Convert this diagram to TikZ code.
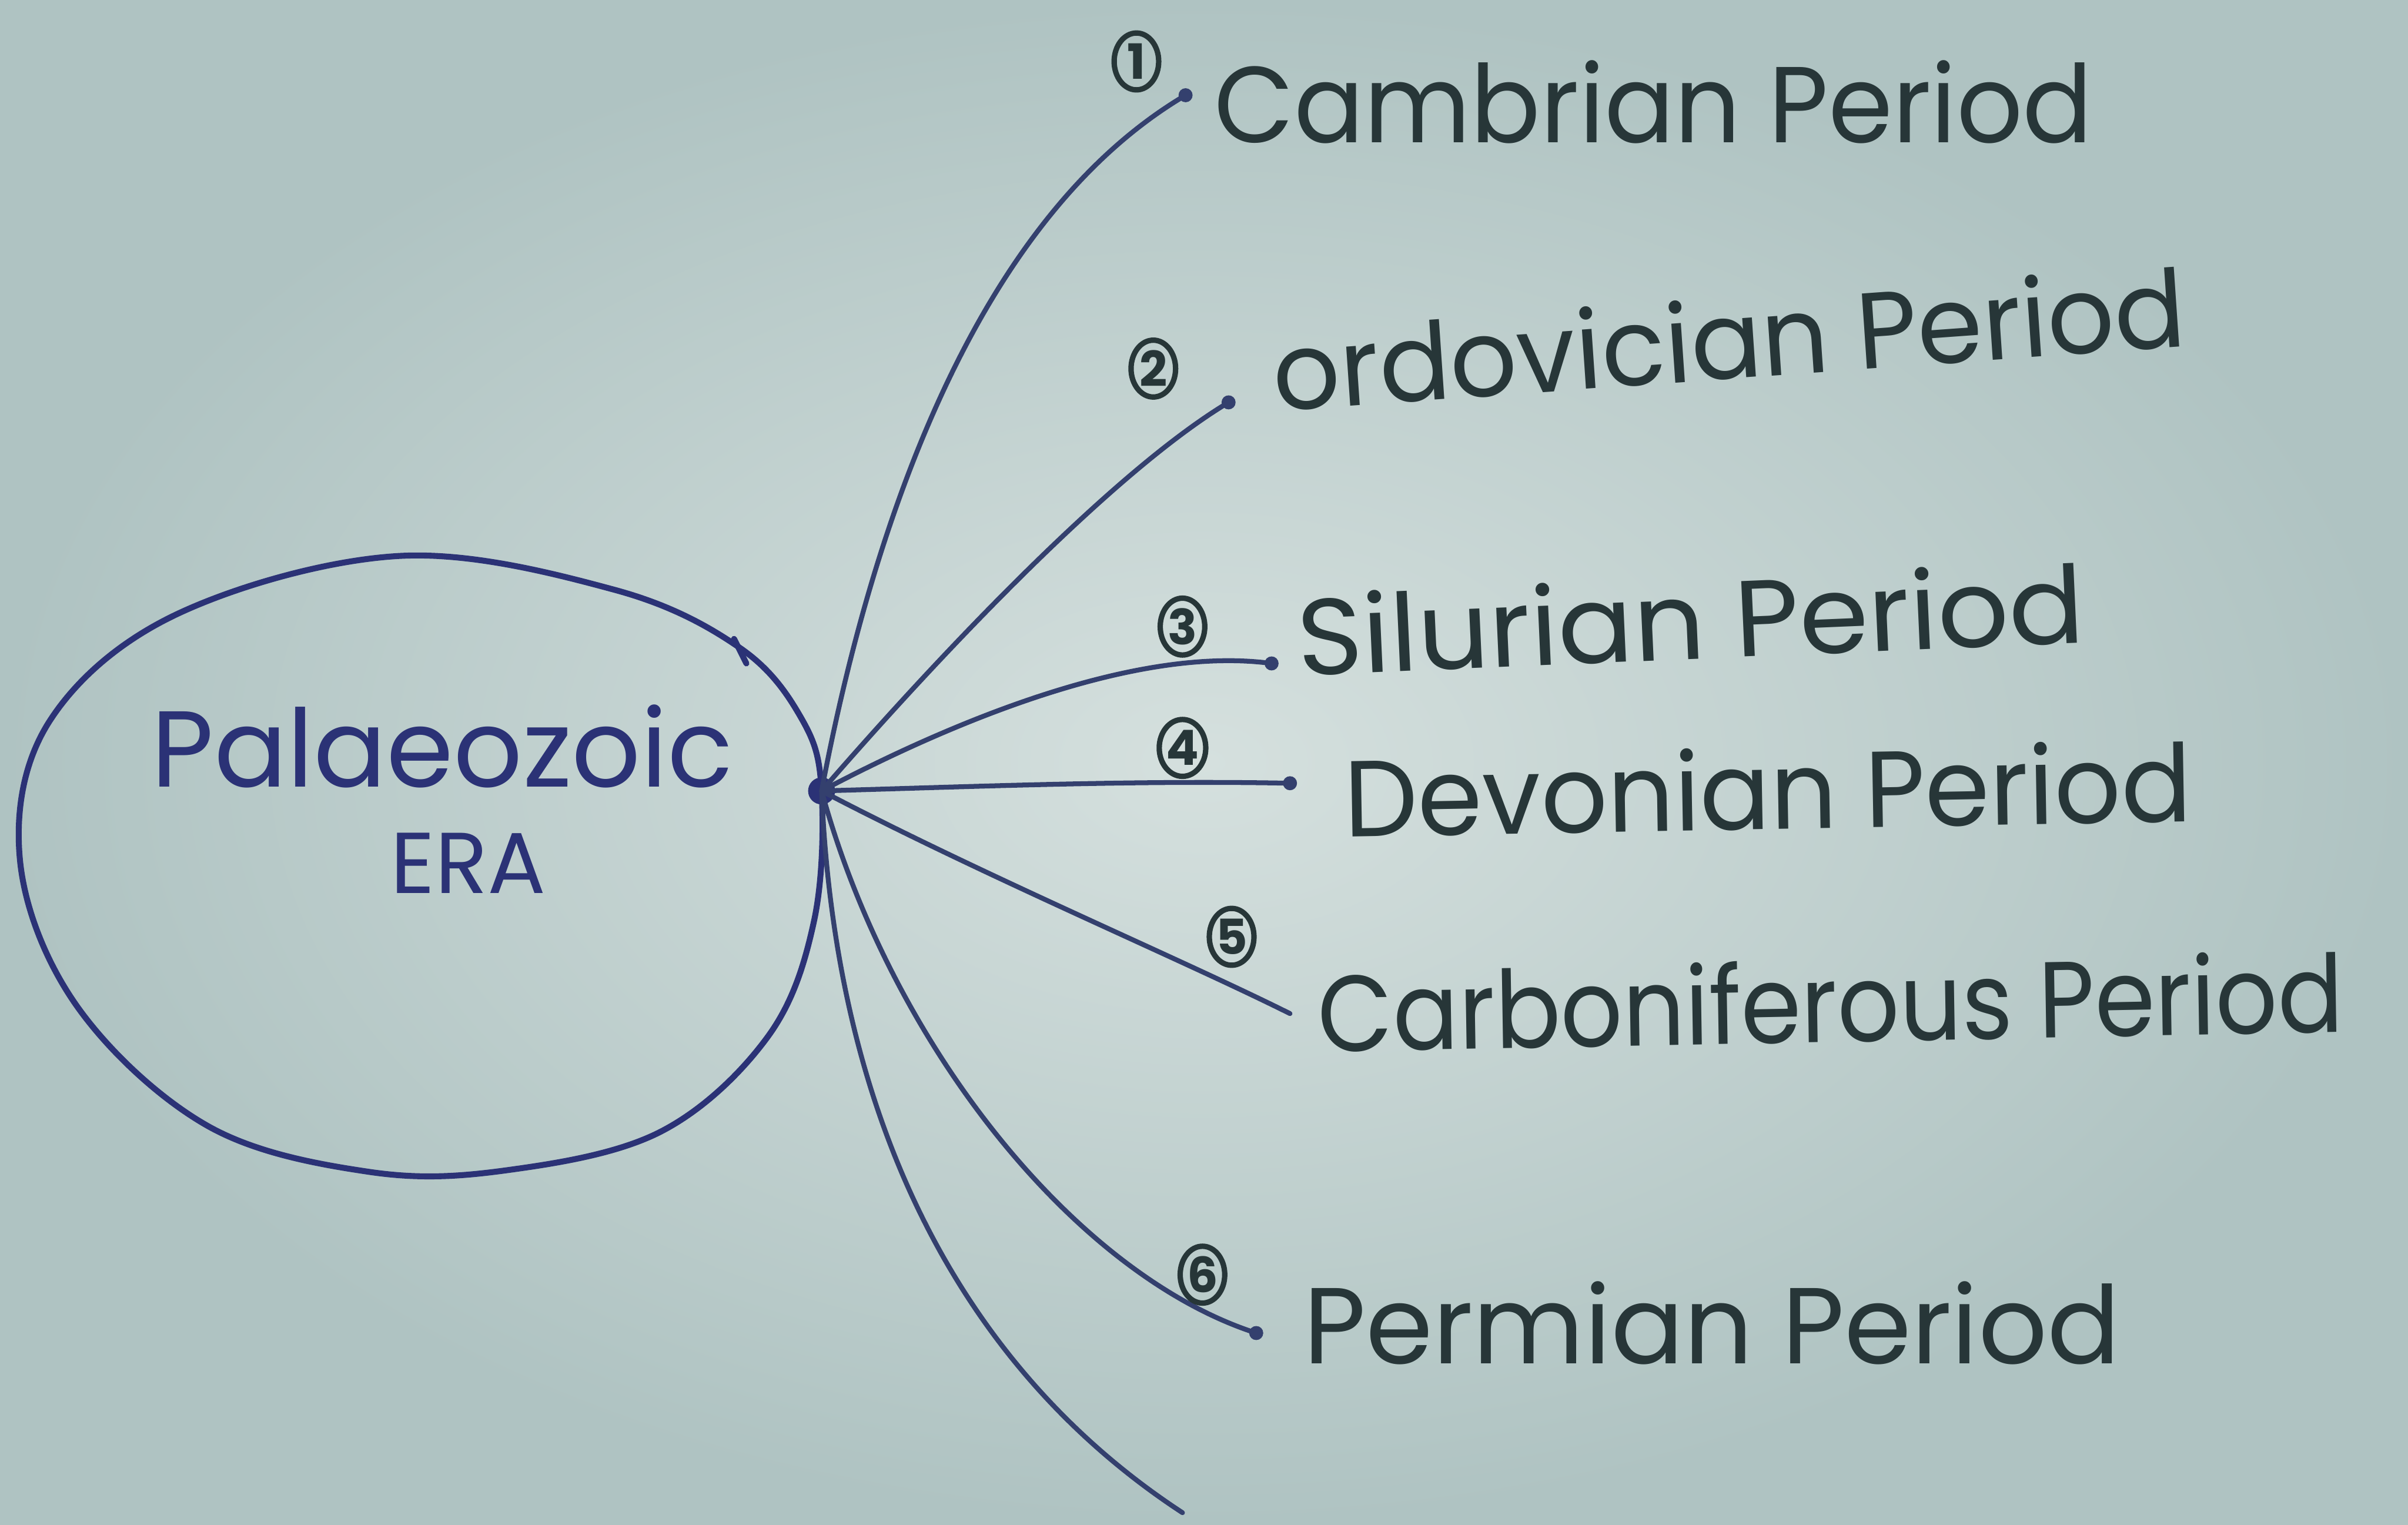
\documentclass[tikz,border=0pt]{standalone}
\usepackage{fontspec}
\setmainfont{Poppins}
\usetikzlibrary{shapes.geometric}
\definecolor{paper}{HTML}{D5E0DE}
\definecolor{paperedge}{HTML}{AFC3C2}
\definecolor{ink}{HTML}{2B3276}
\definecolor{lineink}{HTML}{34406E}
\definecolor{textink}{HTML}{273638}
\begin{document}
\begin{tikzpicture}[x=0.01cm,y=-0.01cm,
  conn/.style={draw=lineink, line width=0.9pt, line cap=round},
  lbl/.style={text=textink, font=\fontsize{20}{24}\selectfont, anchor=base west, inner sep=0pt},
  num/.style={draw=textink, line width=1pt, ellipse, minimum width=0.29cm, minimum height=0.37cm, inner sep=0pt, font=\fontsize{9}{10}\selectfont\bfseries, text=textink},
  enddot/.style={circle, fill=lineink, inner sep=0pt, minimum size=2.6pt},
  era/.style={text=ink, inner sep=0pt}]
\useasboundingbox (0,0) rectangle (1568,993);
\shade[inner color=paper, outer color=paperedge] (0,0) rectangle (1568,993);

% era outline
\draw[ink, line width=1.1pt] plot[smooth cycle, tension=0.6] coordinates {
  (260,362) (400,384) (482,422) (522,468) (535,515) (530,600) (500,675)
  (430,737) (330,762) (240,763) (135,733) (50,655) (13,560) (32,470) (115,400)};
\draw[ink, line width=1.1pt, line cap=round] (478,416) -- (486,432);

\node[era, font=\fontsize{20}{24}\selectfont] (era1) at (288,486) {Palaeozoic};
\node[era, font=\fontsize{16}{19}\selectfont] (era2) at (305,562) {ERA};

% hub and ends
\node[circle, fill=ink, inner sep=0pt, minimum size=5pt] (hub) at (535,515) {};
\node[enddot] (e1) at (772,62) {};
\node[enddot] (e2) at (800,262) {};
\node[enddot] (e3) at (828,432) {};
\node[enddot] (e4) at (840,510) {};
\coordinate (e5) at (840,660);
\node[enddot] (e6) at (818,868) {};
\coordinate (e7) at (770,985);

% connectors
\draw[conn] (hub.center) .. controls (570,330) and (640,140) .. (e1.center);
\draw[conn] (hub.center) .. controls (600,440) and (720,310) .. (e2.center);
\draw[conn] (hub.center) .. controls (620,470) and (740,420) .. (e3.center);
\draw[conn] (hub.center) .. controls (640,512) and (740,508) .. (e4.center);
\draw[conn] (hub.center) .. controls (640,570) and (770,625) .. (e5);
\draw[conn] (hub.center) .. controls (580,680) and (700,830) .. (e6.center);
\draw[conn] (hub.center) .. controls (545,750) and (640,900) .. (e7);

% circled numbers
\node[num] (n1) at (740,40) {1};
\node[num] (n2) at (751,240) {2};
\node[num] (n3) at (770,408) {3};
\node[num] (n4) at (770,487) {4};
\node[num] (n5) at (802,610) {5};
\node[num] (n6) at (783,830) {6};

% labels
\node[lbl, xscale=0.958] (l1) at (790,93) {Cambrian Period};
\node[lbl, xscale=0.972, rotate=4] (l2) at (830,268) {ordovician Period};
\node[lbl, xscale=1.034, rotate=2.5] (l3) at (845,440) {Silurian Period};
\node[lbl, xscale=0.965, rotate=1] (l4) at (875,545) {Devonian Period};
\node[lbl, xscale=0.9, rotate=1] (l5) at (858,685) {Carboniferous Period};
\node[lbl] (l6) at (848,888) {Permian Period};
\end{tikzpicture}
\end{document}
